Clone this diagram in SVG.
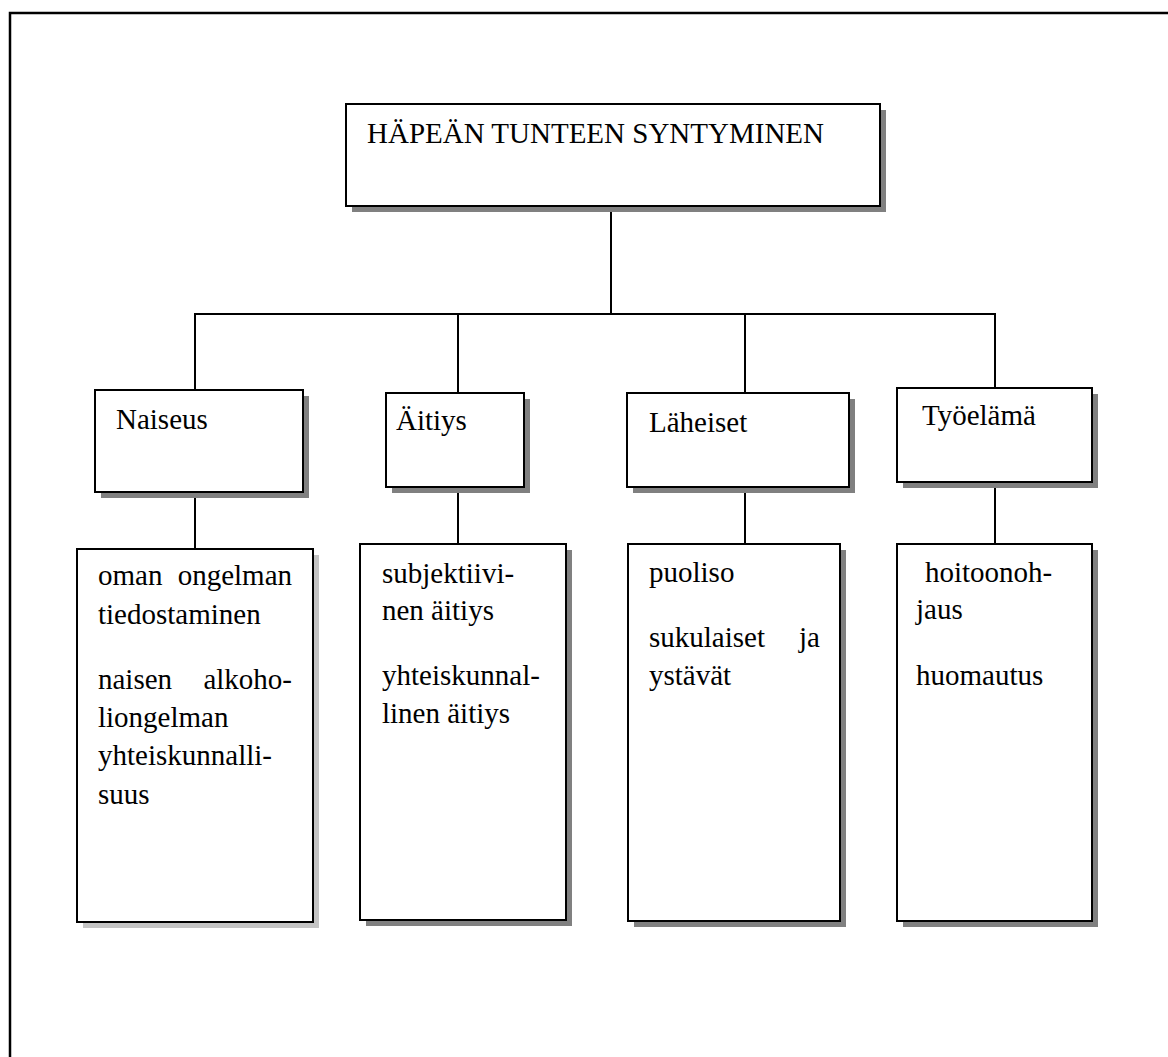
<svg xmlns="http://www.w3.org/2000/svg" width="1168" height="1057" viewBox="0 0 1168 1057">
<style>
.box{fill:#fff;stroke:#000;stroke-width:2}
.sh{fill:#808080}
.sh2{fill:#c4c4c4}
.ln{stroke:#000;stroke-width:2;fill:none}
text{font-family:"Liberation Serif","Times New Roman",serif;font-size:29px;fill:#000}
</style>
<rect width="1168" height="1057" fill="#fff"/>
<rect x="10" y="13" width="1200" height="1100" fill="none" stroke="#000" stroke-width="2.5"/>
<g id="connectors">
<line class="ln" x1="611" y1="206" x2="611" y2="314"/>
<line class="ln" x1="194" y1="314" x2="996" y2="314"/>
<line class="ln" x1="195" y1="314" x2="195" y2="390"/>
<line class="ln" x1="458" y1="314" x2="458" y2="393"/>
<line class="ln" x1="745" y1="314" x2="745" y2="393"/>
<line class="ln" x1="995" y1="314" x2="995" y2="388"/>
<line class="ln" x1="195" y1="492" x2="195" y2="549"/>
<line class="ln" x1="458" y1="487" x2="458" y2="544"/>
<line class="ln" x1="745" y1="487" x2="745" y2="544"/>
<line class="ln" x1="995" y1="482" x2="995" y2="544"/>
</g>
<g id="n-root">
<rect class="sh" x="352" y="110" width="534" height="102"/>
<rect class="box" x="346" y="104" width="534" height="102"/>
<text x="367" y="143">HÄPEÄN TUNTEEN SYNTYMINEN</text>
</g>
<g id="n-naiseus">
<rect class="sh" x="101" y="396" width="208" height="102"/>
<rect class="box" x="95" y="390" width="208" height="102"/>
<text x="116" y="429">Naiseus</text>
</g>
<g id="n-aitiys">
<rect class="sh" x="392" y="399" width="138" height="94"/>
<rect class="box" x="386" y="393" width="138" height="94"/>
<text x="396" y="430">Äitiys</text>
</g>
<g id="n-laheiset">
<rect class="sh" x="633" y="399" width="222" height="94"/>
<rect class="box" x="627" y="393" width="222" height="94"/>
<text x="649" y="432">Läheiset</text>
</g>
<g id="n-tyoelama">
<rect class="sh" x="903" y="394" width="195" height="94"/>
<rect class="box" x="897" y="388" width="195" height="94"/>
<text x="922" y="425">Työelämä</text>
</g>
<g id="n-naiseus-list">
<rect class="sh2" x="83" y="555" width="236" height="373"/>
<rect class="box" x="77" y="549" width="236" height="373"/>
<text x="98" y="585">oman</text>
<text x="292" y="585" text-anchor="end">ongelman</text>
<text x="98" y="624">tiedostaminen</text>
<text x="98" y="689">naisen</text>
<text x="292" y="689" text-anchor="end">alkoho-</text>
<text x="98" y="727">liongelman</text>
<text x="98" y="765">yhteiskunnalli-</text>
<text x="98" y="804">suus</text>
</g>
<g id="n-aitiys-list">
<rect class="sh" x="366" y="550" width="206" height="376"/>
<rect class="box" x="360" y="544" width="206" height="376"/>
<text x="382" y="583">subjektiivi-</text>
<text x="382" y="620">nen äitiys</text>
<text x="382" y="685">yhteiskunnal-</text>
<text x="382" y="723">linen äitiys</text>
</g>
<g id="n-laheiset-list">
<rect class="sh" x="634" y="550" width="212" height="377"/>
<rect class="box" x="628" y="544" width="212" height="377"/>
<text x="649" y="582">puoliso</text>
<text x="649" y="647">sukulaiset</text>
<text x="820" y="647" text-anchor="end">ja</text>
<text x="649" y="685">ystävät</text>
</g>
<g id="n-tyoelama-list">
<rect class="sh" x="903" y="550" width="195" height="377"/>
<rect class="box" x="897" y="544" width="195" height="377"/>
<text x="925" y="582">hoitoonoh-</text>
<text x="916" y="619">jaus</text>
<text x="916" y="685">huomautus</text>
</g>
</svg>
